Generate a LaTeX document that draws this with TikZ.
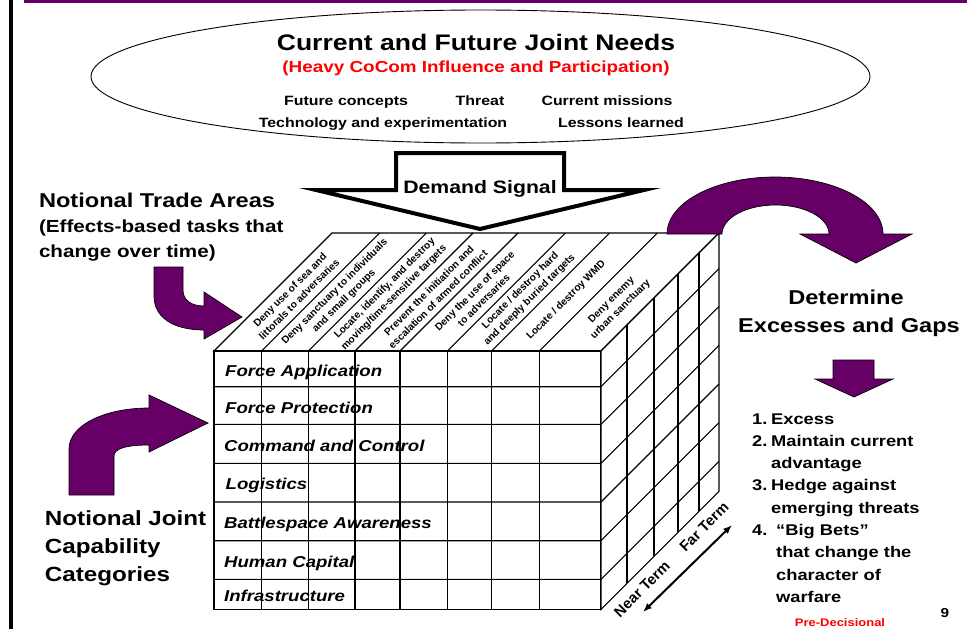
\documentclass[tikz,border=0pt]{standalone}
\usepackage{fontspec}
\setmainfont{Liberation Sans}[FakeStretch=1.18]
\newfontfamily\rotfont{Liberation Sans}
\usetikzlibrary{arrows.meta,shapes.geometric}
\definecolor{purp}{RGB}{102,0,102}
\definecolor{predred}{RGB}{255,0,0}
\newcommand{\fsz}[1]{\fontsize{#1}{#1}\selectfont}
\begin{document}
\begin{tikzpicture}[x=1pt,y=-1pt,
  txt/.style={inner sep=0pt, outer sep=0pt, font=\bfseries},
  gridline/.style={line width=1.1pt},
  bigarrow/.style={fill=purp, draw=black, line width=0.7pt},
  toplabel/.style={inner sep=0pt, rotate=45, align=center, font=\rotfont\bfseries\fontsize{10.2}{13}\selectfont},
  termlabel/.style={inner sep=0pt, rotate=45, font=\rotfont\bfseries\fsz{14.8}},
  rowlabel/.style={inner sep=0pt, anchor=base west, font=\bfseries\itshape\fsz{15.75}},
  listtxt/.style={inner sep=0pt, anchor=base west, font=\bfseries\fsz{15.5}},
]
\useasboundingbox (0,0) rectangle (967,629);
\fill[white] (0,0) rectangle (967,629);
% frame bars
\fill[purp] (24,0) rectangle (967,3);
\fill[black] (9,0) rectangle (13,629);

% needs ellipse
\node[draw, ellipse, line width=0.9pt, minimum width=779pt, minimum height=133pt, inner sep=0pt] (needs) at (480.5,76.5) {};
\node[txt, anchor=base, font=\bfseries\fsz{22.5}] (title) at (476,50) {Current and Future Joint Needs};
\node[txt, anchor=base, text=predred, font=\bfseries\fsz{16}] (sub) at (476,72) {(Heavy CoCom Influence and Participation)};
\node[txt, anchor=base, font=\bfseries\fsz{13.5}] (fc) at (346,105) {Future concepts};
\node[txt, anchor=base, font=\bfseries\fsz{13.5}] (threat) at (480,105) {Threat};
\node[txt, anchor=base, font=\bfseries\fsz{13.5}] (cm) at (607,105) {Current missions};
\node[txt, anchor=base, font=\bfseries\fsz{13.5}] (tech) at (383,127) {Technology and experimentation};
\node[txt, anchor=base, font=\bfseries\fsz{13.5}] (ll) at (621,127) {Lessons learned};

% demand signal arrow
\draw[line width=4pt, fill=white] (396,153) -- (564,153) -- (564,190) -- (644,190) -- (480,229) -- (316,190) -- (396,190) -- cycle;
\node[txt, anchor=base, font=\bfseries\fsz{18}] (demand) at (480,193) {Demand Signal};

% left texts
\node[txt, anchor=base west, font=\bfseries\fsz{20}] (nta) at (39,207) {Notional Trade Areas};
\node[txt, anchor=base west, font=\bfseries\fsz{17.5}] (eff1) at (39,232) {(Effects-based tasks that};
\node[txt, anchor=base west, font=\bfseries\fsz{17.5}] (eff2) at (39,257) {change over time)};

\draw[bigarrow] (154,267) -- (183,267) -- (183,290) .. controls (183,300) and (191,306) .. (204,306) -- (204,292) -- (242,317) -- (204,339) -- (204,330) .. controls (174,330) and (154,318) .. (154,296) -- cycle;

\draw[bigarrow] (69,495) -- (114,495) -- (114,456) .. controls (114,449) and (125,445) .. (149,445) -- (149,452) -- (208,423) -- (149,395) -- (149,408) .. controls (105,408) and (69,425) .. (69,449) -- cycle;

\node[txt, anchor=base west, font=\bfseries\fsz{20.5}] (nj1) at (45,525) {Notional Joint};
\node[txt, anchor=base west, font=\bfseries\fsz{20.5}] (nj2) at (45,553) {Capability};
\node[txt, anchor=base west, font=\bfseries\fsz{20.5}] (nj3) at (45,581) {Categories};

% cube
\filldraw[fill=white, gridline] (214,351) -- (332,233) -- (719,233) -- (601,351) -- cycle;
\foreach \x in {261.7,308.3,355,400,447.3,491.7,539.3}
  \draw[gridline] (\x,351) -- ++(118,-118);
\filldraw[fill=white, gridline] (214,351) rectangle (601,609.3);
\filldraw[fill=white, gridline] (601,351) -- (719,233) -- (719,491.3) -- (601,609.3) -- cycle;
\foreach \y in {386.7,424.3,463.3,502,540.7,579.3}
  \draw[gridline] (214,\y) -- (601,\y) -- ++(118,-118);
\foreach \x in {261.7,308.3,355,400,447.3,491.7,539.3}
  \draw[gridline] (\x,351) -- (\x,609.3);
\foreach \x in {627,654,678,699}
  \draw[gridline] (\x,{351-(\x-601)}) -- (\x,{609.3-(\x-601)});

\node[toplabel] (t1) at (294.5,294.4) {Deny use of sea and\\littorals to adversaries};
\node[toplabel] (t2) at (339.5,296.5) {Deny sanctuary to individuals\\and small groups};
\node[toplabel] (t3) at (389.5,293.1) {Locate, identify, and destroy\\moving/time-sensitive targets};
\node[toplabel] (t4) at (433.5,295.1) {Prevent the initiation and\\escalation of armed conflict};
\node[toplabel] (t5) at (479.1,295.5) {Deny the use of space\\to adversaries};
\node[toplabel] (t6) at (525.0,295.5) {Locate / destroy hard\\and deeply buried targets};
\node[toplabel] (t7) at (566.2,300.3) {Locate / destroy WMD};
\node[toplabel] (t8) at (616.2,305) {Deny enemy\\urban sanctuary};

\node[rowlabel] (r1) at (225,376) {Force Application};
\node[rowlabel] (r2) at (225,413.3) {Force Protection};
\node[rowlabel] (r3) at (224,451) {Command and Control};
\node[rowlabel] (r4) at (225.5,489) {Logistics};
\node[rowlabel] (r5) at (224,528.7) {Battlespace Awareness};
\node[rowlabel] (r6) at (224,567.7) {Human Capital};
\node[rowlabel] (r7) at (224,601) {Infrastructure};

% near / far term
\coordinate (nt) at (643,612);
\coordinate (ft) at (732,525);
\draw[{Latex[length=9pt,width=7pt]}-{Latex[length=9pt,width=7pt]}, line width=2pt] (nt) -- (ft);
\node[termlabel] (near) at (642,589) {Near Term};
\node[termlabel] (far) at (704,527) {Far Term};

% big curved arrow
\draw[bigarrow] (667,234) .. controls (667,202.5) and (715.4,177) .. (775,177) .. controls (834.6,177) and (883,202.5) .. (883,234) -- (912,234) -- (856,263) -- (800,234) -- (829,234) .. controls (829,218) and (805,205) .. (775.5,205) .. controls (746,205) and (722,218) .. (722,234) -- cycle;

\node[txt, anchor=base, font=\bfseries\fsz{20}] (det1) at (846,304) {Determine};
\node[txt, anchor=base, font=\bfseries\fsz{20}] (det2) at (849,332) {Excesses and Gaps};

\draw[bigarrow] (833,360) -- (874,360) -- (874,379) -- (893,379) -- (854,397) -- (815,379) -- (833,379) -- cycle;

\node[listtxt] (n1) at (752,424) {1.};
\node[listtxt] (l1) at (771,424) {Excess};
\node[listtxt] (n2) at (752,446.3) {2.};
\node[listtxt] (l2) at (771,446.3) {Maintain current};
\node[listtxt] (l2b) at (771,468.6) {advantage};
\node[listtxt] (n3) at (752,490.9) {3.};
\node[listtxt] (l3) at (771,490.9) {Hedge against};
\node[listtxt] (l3b) at (771,513.2) {emerging threats};
\node[listtxt] (n4) at (752,535.5) {4.};
\node[listtxt] (l4) at (776,535.5) {“Big Bets”};
\node[listtxt] (l4b) at (776,557.8) {that change the};
\node[listtxt] (l4c) at (776,580.1) {character of};
\node[listtxt] (l4d) at (776,602.4) {warfare};

\node[txt, anchor=base, text=predred, font=\bfseries\fsz{11}] (pd) at (840,626) {Pre-Decisional};
\node[txt, anchor=base, font=\bfseries\fsz{13}] (pg) at (945,617) {9};
\end{tikzpicture}
\end{document}
